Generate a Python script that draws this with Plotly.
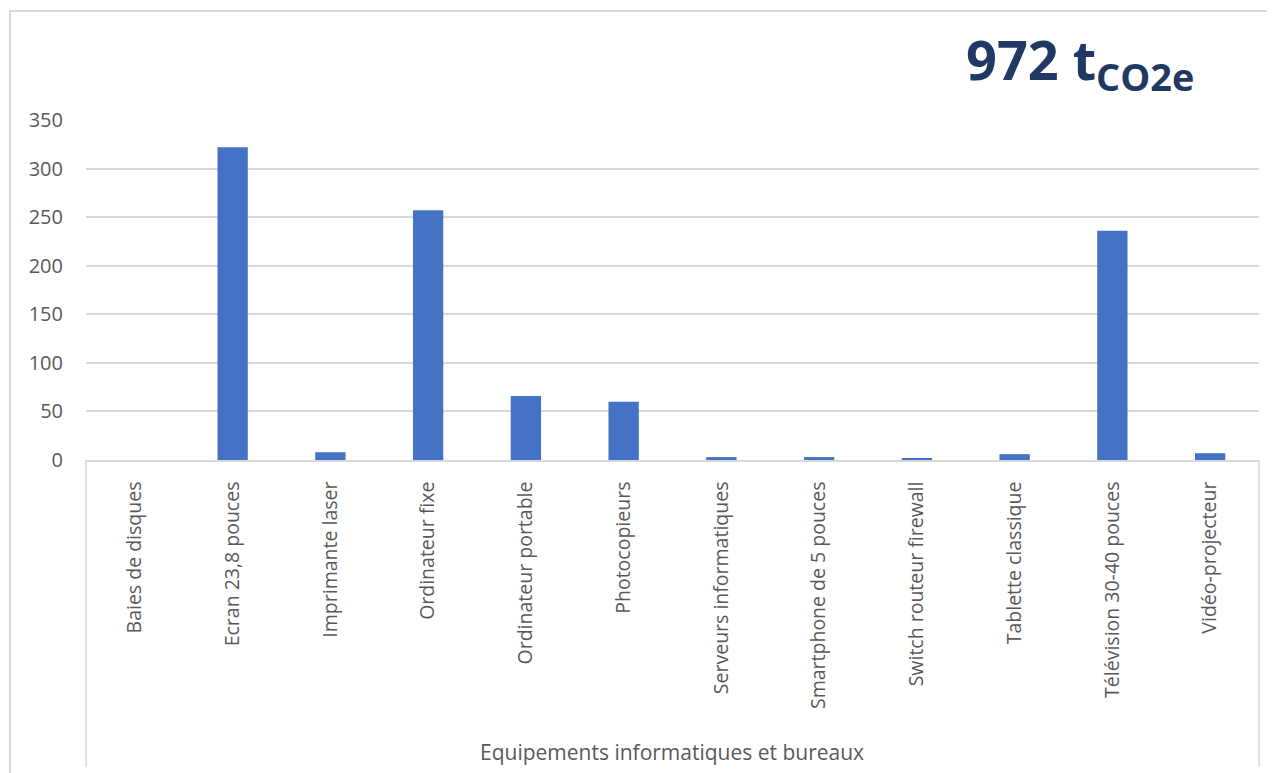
import plotly.graph_objects as go

categories = ["Baies de disques", "Ecran 23,8 pouces", "Imprimante laser", "Ordinateur fixe",
              "Ordinateur portable", "Photocopieurs", "Serveurs informatiques",
              "Smartphone de 5 pouces", "Switch routeur firewall", "Tablette classique",
              "Télévision 30-40 pouces", "Vidéo-projecteur"]
values = [0, 322, 8, 257, 66, 60, 3, 3, 2, 6, 236, 7]
y_ticks = [0, 50, 100, 150, 200, 250, 300, 350]
axis_title = "Equipements informatiques et bureaux"
total_label = "972 t"
total_sub = "CO2e"

# page body margin offset (8px) compensation
OFF = 8
W, H = 1275, 773
L, R, T, B = 86 - OFF, 16 + OFF, 120 - OFF, 313 + OFF
pw, ph = W - L - R, H - T - B

def px_x(x):  # x in screenshot pixels
    return (x - OFF - L) / pw

def px_y(y):
    return (H - B - (y - OFF)) / ph

grey = "#D9D9D9"
txt = "#595959"
font = "Open Sans"

fig = go.Figure(go.Bar(
    x=categories, y=values,
    marker=dict(color="#4472C4", line=dict(width=0)),
    width=0.31,
))

shapes = [
    dict(type="rect", xref="paper", yref="paper",
         x0=px_x(10), x1=px_x(1300), y0=px_y(800), y1=px_y(11),
         line=dict(color=grey, width=2), layer="below"),
    dict(type="line", xref="paper", yref="paper", x0=0, x1=0, y0=0, y1=px_y(767),
         line=dict(color=grey, width=1.5)),
    dict(type="line", xref="paper", yref="paper", x0=1, x1=1, y0=0, y1=px_y(767),
         line=dict(color=grey, width=1.5)),
]

annotations = [
    dict(text=axis_title, xref="paper", yref="paper", x=px_x(672), y=px_y(752),
         xanchor="center", yanchor="middle", showarrow=False,
         font=dict(family=font, size=21, color=txt)),
    dict(text=f"<b>{total_label}<sub>{total_sub}</sub></b>", xref="paper", yref="paper",
         x=px_x(964), y=px_y(62), xanchor="left", yanchor="middle", showarrow=False,
         font=dict(family=font, size=54, color="#1F3864")),
]

fig.update_layout(
    width=W, height=H,
    margin=dict(l=L, r=R, t=T, b=B, autoexpand=False),
    paper_bgcolor="white", plot_bgcolor="white",
    showlegend=False,
    shapes=shapes, annotations=annotations,
    xaxis=dict(
        type="category", tickangle=-90, showgrid=False,
        showline=True, linecolor=grey, linewidth=1.5,
        ticks="", ticklabelstandoff=12,
        tickfont=dict(family=font, size=19.5, color=txt),
        range=[-0.5, len(categories) - 0.5],
    ),
    yaxis=dict(
        range=[0, 350], tickvals=y_ticks, showgrid=True, gridcolor=grey, gridwidth=1.5,
        zeroline=False, showline=False, ticks="", ticklabelstandoff=22,
        tickfont=dict(family=font, size=20, color=txt),
    ),
)

fig.write_html("out.html")
